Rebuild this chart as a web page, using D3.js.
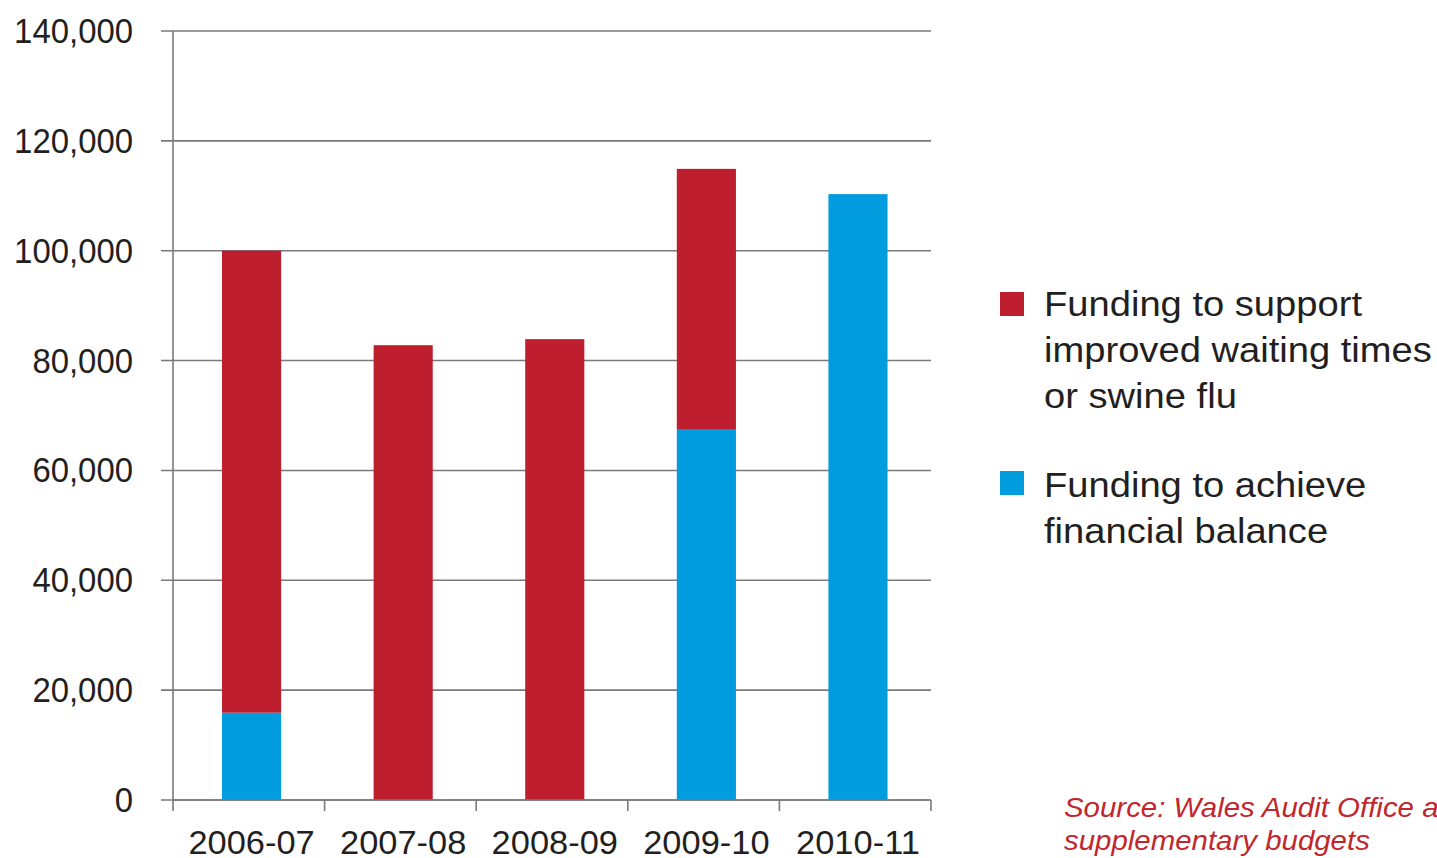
<!DOCTYPE html>
<html>
<head>
<meta charset="utf-8">
<script src="https://cdn.jsdelivr.net/npm/d3@7"></script>
<style>
  html, body { margin: 0; padding: 0; background: #fff; }
  svg { display: block; font-family: "Liberation Sans", Arial, sans-serif; }
</style>
</head>
<body>
<svg id="chart" width="1437" height="858"></svg>
<script>
// Supplementary funding by year (£000s)
const years = ["2006-07", "2007-08", "2008-09", "2009-10", "2010-11"];
const balanceFunding = [15900, 0, 0, 67400, 110300];      // financial balance
const waitingFunding = [84100, 82800, 83900, 47500, 0];   // waiting times / swine flu
const yTicks = [0, 20000, 40000, 60000, 80000, 100000, 120000, 140000];

const seriesNames = ["balance", "waiting"];
const seriesLabels = {
  waiting: ["Funding to support", "improved waiting times", "or swine flu"],
  balance: ["Funding to achieve", "financial balance"]
};
const colors = { waiting: "#BE1E2D", balance: "#009CDE" };
const sourceLines = ["Source: Wales Audit Office analysis of", "supplementary budgets"];

const rows = years.map((y, i) => ({ year: y, balance: balanceFunding[i], waiting: waitingFunding[i] }));

const svg = d3.select("#chart");
const axisColor = "#7a7a7a";
const textColor = "#231F20";

const xLeft = 173, xRight = 931;
const x = d3.scaleBand().domain(years).range([xLeft, xRight])
  .paddingInner(0.61).paddingOuter(0.305).align(0.53);
const y = d3.scaleLinear().domain([0, 140000]).range([800, 31]);

// horizontal gridlines with outward ticks
svg.append("g").selectAll("line").data(yTicks).join("line")
  .attr("x1", 161).attr("x2", xRight)
  .attr("y1", d => y(d)).attr("y2", d => y(d))
  .attr("stroke", axisColor).attr("stroke-width", 1.6);

// y axis line
svg.append("line").attr("x1", xLeft).attr("x2", xLeft).attr("y1", y(140000)).attr("y2", y(0))
  .attr("stroke", axisColor).attr("stroke-width", 1.6);

// y tick labels
const fmt = d3.format(",");
svg.append("g").selectAll("text").data(yTicks).join("text")
  .attr("transform", d => `translate(133,${y(d) + 12}) scale(0.94,1)`)
  .attr("text-anchor", "end")
  .attr("font-size", 35)
  .attr("fill", textColor)
  .text(d => fmt(d));

// stacked bars
const stack = d3.stack().keys(seriesNames)(rows);
svg.append("g").selectAll("g").data(stack).join("g")
  .attr("fill", s => colors[s.key])
  .selectAll("rect").data(s => s).join("rect")
  .attr("x", d => x(d.data.year))
  .attr("width", x.bandwidth())
  .attr("y", d => y(d[1]))
  .attr("height", d => y(d[0]) - y(d[1]));

// x axis line and category boundary ticks
svg.append("line").attr("x1", xLeft).attr("x2", xRight).attr("y1", y(0)).attr("y2", y(0))
  .attr("stroke", axisColor).attr("stroke-width", 1.6);
const catWidth = (xRight - xLeft) / years.length;
const boundaries = d3.range(years.length + 1).map(i => xLeft + i * catWidth);
svg.append("g").selectAll("line").data(boundaries).join("line")
  .attr("x1", d => d).attr("x2", d => d)
  .attr("y1", y(0)).attr("y2", y(0) + 11)
  .attr("stroke", axisColor).attr("stroke-width", 1.6);

// x labels
svg.append("g").selectAll("text").data(years).join("text")
  .attr("transform", d => `translate(${x(d) + x.bandwidth() / 2},854) scale(1.06,1)`)
  .attr("text-anchor", "middle")
  .attr("font-size", 32.5)
  .attr("fill", textColor)
  .text(d => d);

// legend
const legendItems = [
  { key: "waiting", top: 292, baseline: 315.7 },
  { key: "balance", top: 471, baseline: 496.7 }
];
const legend = svg.append("g");
legendItems.forEach(item => {
  legend.append("rect")
    .attr("x", 1000).attr("y", item.top).attr("width", 24).attr("height", 24)
    .attr("fill", colors[item.key]);
  seriesLabels[item.key].forEach((line, j) => {
    legend.append("text")
      .attr("transform", `translate(1044,${item.baseline + j * 46}) scale(1.09,1)`)
      .attr("font-size", 35)
      .attr("fill", textColor)
      .text(line);
  });
});

// source note
sourceLines.forEach((line, j) => {
  svg.append("text")
    .attr("transform", `translate(1064,${817 + j * 33}) scale(1.09,1)`)
    .attr("font-size", 27)
    .attr("font-style", "italic")
    .attr("fill", "#C1272D")
    .text(line);
});
</script>
</body>
</html>
